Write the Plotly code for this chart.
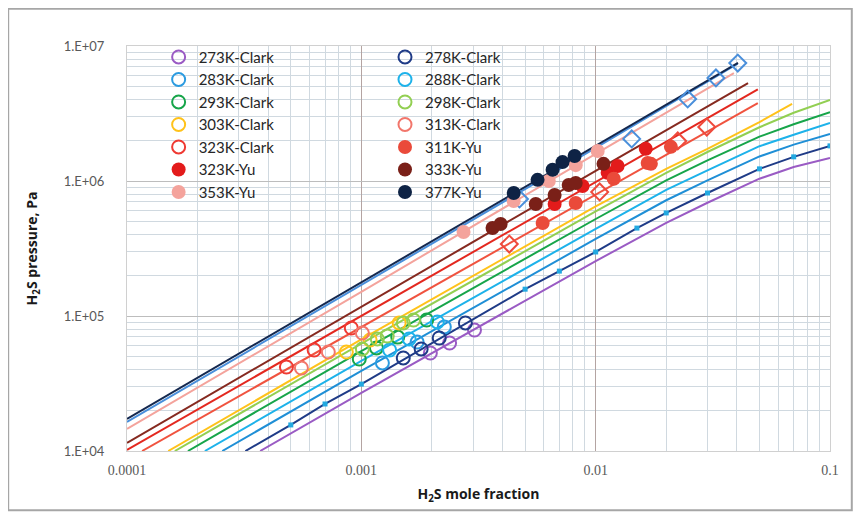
import plotly.graph_objects as go

# ---- model lines (H2S mole fraction, pressure Pa) ----
l273_x = [3.7e-4, 0.001, 0.01, 0.02, 0.03, 0.05, 0.07, 0.1]
l273_p = [1.0e4, 2.7e4, 2.55e5, 4.9e5, 6.9e5, 1.04e6, 1.27e6, 1.48e6]
l278_x = [3.2e-4, 0.0005, 0.0007, 0.001, 0.005, 0.007, 0.01, 0.015, 0.02, 0.03, 0.05, 0.07, 0.1]
l278_p = [1.0e4, 1.56e4, 2.23e4, 3.13e4, 1.58e5, 2.15e5, 2.98e5, 4.48e5, 5.8e5, 8.15e5, 1.23e6, 1.51e6, 1.82e6]
l283_x = [2.55e-4, 0.001, 0.01, 0.02, 0.03, 0.05, 0.07, 0.1]
l283_p = [1.0e4, 3.92e4, 3.72e5, 7.2e5, 1.01e6, 1.52e6, 1.86e6, 2.23e6]
l288_x = [2.15e-4, 0.001, 0.01, 0.02, 0.03, 0.05, 0.07, 0.1]
l288_p = [1.0e4, 4.65e4, 4.42e5, 8.6e5, 1.2e6, 1.81e6, 2.2e6, 2.69e6]
l293_x = [1.82e-4, 0.001, 0.01, 0.02, 0.03, 0.05, 0.07, 0.1]
l293_p = [1.0e4, 5.5e4, 5.23e5, 1.01e6, 1.42e6, 2.13e6, 2.63e6, 3.24e6]
l298_x = [1.6e-4, 0.001, 0.01, 0.02, 0.03, 0.05, 0.07, 0.1]
l298_p = [1.0e4, 6.25e4, 5.95e5, 1.15e6, 1.64e6, 2.5e6, 3.2e6, 3.98e6]
l303_x = [1.5e-4, 0.001, 0.01, 0.02, 0.03, 0.05, 0.0689]
l303_p = [1.0e4, 6.7e4, 6.5e5, 1.23e6, 1.73e6, 2.73e6, 3.72e6]
l313_x = [1.16e-4, 0.001, 0.01, 0.0492]
l313_p = [1.0e4, 8.3e4, 7.9e5, 3.78e6]
l323_x = [1e-4, 0.001, 0.01, 0.0492]
l323_p = [1.02e4, 1.0e5, 9.8e5, 4.78e6]
l333_x = [1e-4, 0.001, 0.01, 0.0447]
l333_p = [1.15e4, 1.17e5, 1.19e6, 5.3e6]
l353_x = [1e-4, 0.001, 0.01, 0.0389]
l353_p = [1.46e4, 1.51e5, 1.59e6, 6.3e6]
l377_x = [1e-4, 0.001, 0.01, 0.0405]
l377_p = [1.73e4, 1.77e5, 1.83e6, 7.5e6]
lblue_x = [1e-4, 0.001, 0.01, 0.0404]
lblue_p = [1.64e4, 1.70e5, 1.76e6, 7.4e6]

# small markers sitting on the 278 K line
m278_x = [0.0005, 0.0007, 0.001, 0.005, 0.007, 0.01, 0.015, 0.02, 0.03, 0.05, 0.07, 0.1]
m278_p = [1.56e4, 2.23e4, 3.13e4, 1.58e5, 2.15e5, 2.98e5, 4.48e5, 5.8e5, 8.15e5, 1.23e6, 1.51e6, 1.82e6]

# open diamonds
dblue_x = [0.00473, 0.01425, 0.0247, 0.0326, 0.0404]
dblue_p = [7.36e5, 2.05e6, 4.05e6, 5.8e6, 7.48e6]
dred_x = [0.00428, 0.0104, 0.0224, 0.0298]
dred_p = [3.41e5, 8.3e5, 1.98e6, 2.51e6]

# ---- Clark data ----
c273_x = [0.00197, 0.00238, 0.00304]
c273_p = [5.32e4, 6.31e4, 7.87e4]
c278_x = [0.00151, 0.0018, 0.00215, 0.00278]
c278_p = [4.89e4, 5.7e4, 6.87e4, 8.88e4]
c283_x = [0.00123, 0.00173, 0.00226]
c283_p = [4.49e4, 6.41e4, 8.3e4]
c288_x = [0.00132, 0.0016, 0.00211]
c288_p = [5.6e4, 6.76e4, 9.03e4]
c293_x = [0.00098, 0.00116, 0.00143, 0.0019]
c293_p = [4.8e4, 5.8e4, 6.98e4, 9.34e4]
c298_x = [0.00101, 0.00117, 0.00129, 0.00151, 0.00167]
c298_p = [5.7e4, 6.76e4, 7.11e4, 8.88e4, 9.34e4]
c303_x = [0.000863, 0.00109, 0.00145]
c303_p = [5.41e4, 6.64e4, 8.88e4]
c313_x = [0.000555, 0.000723, 0.00101]
c313_p = [4.12e4, 5.41e4, 7.48e4]
c323_x = [0.000479, 0.000629, 0.000906]
c323_p = [4.19e4, 5.6e4, 8.15e4]

# ---- Yu data ----
y311_x = [0.00594, 0.00822, 0.01194, 0.01667, 0.0172, 0.02094]
y311_p = [4.89e5, 6.87e5, 1.04e6, 1.36e6, 1.34e6, 1.79e6]
y323_x = [0.00668, 0.00879, 0.01125, 0.0124, 0.01636]
y323_p = [6.76e5, 9.18e5, 1.15e6, 1.29e6, 1.73e6]
y333_x = [0.00363, 0.00393, 0.00555, 0.00668, 0.00767, 0.00822, 0.0108]
y333_p = [4.49e5, 4.8e5, 6.76e5, 7.87e5, 9.33e5, 9.66e5, 1.34e6]
y353_x = [0.00273, 0.00447, 0.00631, 0.00822, 0.0102]
y353_p = [4.19e5, 7.11e5, 1.0e6, 1.31e6, 1.67e6]
y377_x = [0.00447, 0.00565, 0.00655, 0.00722, 0.00813]
y377_p = [8.15e5, 1.02e6, 1.21e6, 1.38e6, 1.53e6]

fig = go.Figure()

lines = [
    (l273_x, l273_p, "#9a5bc4"), (l278_x, l278_p, "#1f3b87"), (l283_x, l283_p, "#1f8fd6"),
    (l288_x, l288_p, "#1db2ea"), (l293_x, l293_p, "#17a54a"), (l298_x, l298_p, "#92cf52"),
    (l303_x, l303_p, "#ffc21a"), (l313_x, l313_p, "#f0533f"), (l323_x, l323_p, "#e3281f"),
    (l333_x, l333_p, "#862a20"), (l353_x, l353_p, "#f4a39c"), (lblue_x, lblue_p, "#4a8fdb"),
    (l377_x, l377_p, "#14284f"),
]
for lx, lp, col in lines:
    fig.add_trace(go.Scatter(x=lx, y=lp, mode="lines", line=dict(color=col, width=2),
                             showlegend=False, hoverinfo="skip"))

fig.add_trace(go.Scatter(x=m278_x, y=m278_p, mode="markers", showlegend=False,
                         marker=dict(symbol="square", size=5, color="#22a9e1")))
fig.add_trace(go.Scatter(x=dblue_x, y=dblue_p, mode="markers", showlegend=False,
                         marker=dict(symbol="diamond-open", size=13, color="#4a8fdb", line=dict(width=2))))
fig.add_trace(go.Scatter(x=dred_x, y=dred_p, mode="markers", showlegend=False,
                         marker=dict(symbol="diamond-open", size=13, color="#ef4a3c", line=dict(width=2))))

clark = [
    ("273K-Clark", c273_x, c273_p, "#9a5bc4", "legend"),
    ("283K-Clark", c283_x, c283_p, "#2b9be0", "legend"),
    ("293K-Clark", c293_x, c293_p, "#17a54a", "legend"),
    ("303K-Clark", c303_x, c303_p, "#ffc21a", "legend"),
    ("323K-Clark", c323_x, c323_p, "#ef3a33", "legend"),
    ("278K-Clark", c278_x, c278_p, "#1f3b87", "legend2"),
    ("288K-Clark", c288_x, c288_p, "#1db2ea", "legend2"),
    ("298K-Clark", c298_x, c298_p, "#92cf52", "legend2"),
    ("313K-Clark", c313_x, c313_p, "#f2766b", "legend2"),
]
yu = [
    ("323K-Yu", y323_x, y323_p, "#e31b1b", "legend"),
    ("353K-Yu", y353_x, y353_p, "#f4a39c", "legend"),
    ("311K-Yu", y311_x, y311_p, "#ea4a3a", "legend2"),
    ("333K-Yu", y333_x, y333_p, "#7a2018", "legend2"),
    ("377K-Yu", y377_x, y377_p, "#0e2345", "legend2"),
]
for name, cx, cp, col, lg in clark:
    fig.add_trace(go.Scatter(x=cx, y=cp, mode="markers", name=name, legend=lg,
                             marker=dict(symbol="circle-open", size=13, color=col, line=dict(width=2))))
for name, cx, cp, col, lg in yu:
    fig.add_trace(go.Scatter(x=cx, y=cp, mode="markers", name=name, legend=lg,
                             marker=dict(symbol="circle", size=14, color=col)))

leg = dict(bgcolor="rgba(0,0,0,0)", font=dict(family="Lato", size=15, color="#262626"),
           yanchor="top", xanchor="left", tracegroupgap=0, itemwidth=30)
fig.update_layout(
    width=861, height=514,
    margin=dict(l=119, r=39, t=38, b=71),
    paper_bgcolor="white", plot_bgcolor="white",
    legend=dict(leg, x=0.045, y=1.013),
    legend2=dict(leg, x=0.367, y=1.013),
    xaxis=dict(type="log", range=[-4, -1],
               tickvals=[1e-4, 1e-3, 1e-2, 1e-1], ticktext=["0.0001", "0.001", "0.01", "0.1"],
               tickfont=dict(family="Liberation Serif", size=14, color="#595959"),
               ticks="", ticklabelstandoff=6,
               showgrid=True, gridcolor="#b4a4a2", gridwidth=1,
               minor=dict(tickvals=[k * 10.0 ** e for e in range(-4, -1) for k in range(2, 10)],
                          showgrid=True, gridcolor="#d0d9e0", gridwidth=1),
               showline=True, linecolor="#d0d0d0", mirror=True, zeroline=False,
               title=dict(text="H<sub>2</sub>S mole fraction", standoff=12,
                          font=dict(family="Open Sans", size=14, color="#1a1a1a", weight="bold"))),
    yaxis=dict(type="log", range=[4, 7],
               tickvals=[1e4, 1e5, 1e6, 1e7], ticktext=["1.E+04", "1.E+05", "1.E+06", "1.E+07"],
               tickfont=dict(family="Lato", size=13, color="#595959"),
               ticks="", ticklabelstandoff=19,
               showgrid=True, gridcolor="#bdbdbd", gridwidth=1,
               minor=dict(tickvals=[k * 10.0 ** e for e in range(4, 7) for k in range(2, 10)],
                          showgrid=True, gridcolor="#d0d9e0", gridwidth=1),
               showline=True, linecolor="#d0d0d0", mirror=True, zeroline=False,
               title=dict(text="H<sub>2</sub>S pressure, Pa", standoff=22,
                          font=dict(family="Open Sans", size=14, color="#1a1a1a", weight="bold"))),
    shapes=[dict(type="rect", xref="paper", yref="paper", x0=-0.169, x1=1.031, y0=-0.146, y1=1.092,
                 line=dict(color="#a6a6a6", width=2), fillcolor="rgba(0,0,0,0)", layer="below")],
)

fig.write_html("out.html")
